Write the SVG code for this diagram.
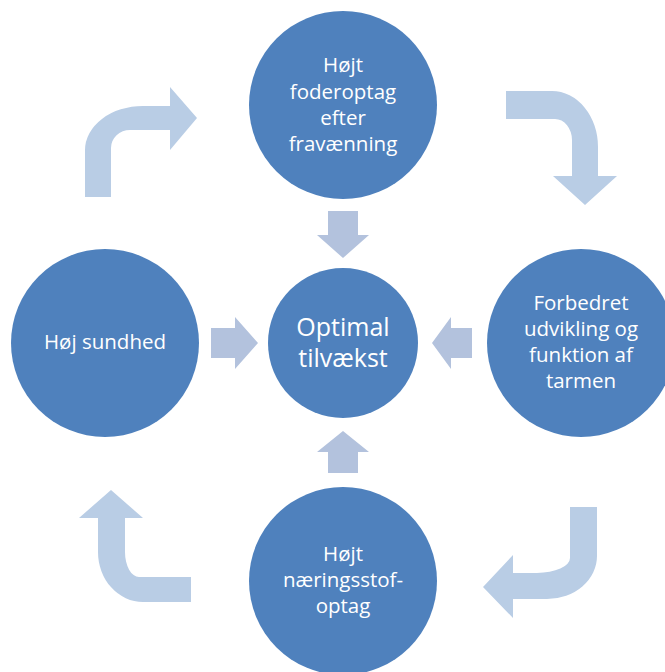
<svg xmlns="http://www.w3.org/2000/svg" width="665" height="672" viewBox="0 0 665 672">
<style>
.node{fill:#4F81BD}
.t{font-family:"Open Sans","Noto Sans","DejaVu Sans",sans-serif;font-size:20.5px;fill:#FFFFFF;text-anchor:middle}
.big{font-size:25px}
.curved{fill:#B9CDE5}
.straight{fill:#B3C2DD}
</style>
<rect width="665" height="672" fill="#FFFFFF"/>
<g id="connectors">
<path class="curved" d="M85,197 L85,150 A58,44 0 0 1 143,106 L170,106 L170,87 L197,118 L170,150 L170,130 L130,130 A19,18 0 0 0 111,148 L111,197 Z"/>
<path class="curved" d="M506,91 L552,91 A46,56 0 0 1 598,147 L598,176 L617,176 L585,205 L553,176 L572,176 L572,140 A17,21 0 0 0 555,119 L506,119 Z"/>
<path class="curved" d="M570,507 L597,507 L597,556 A50,43 0 0 1 547,599 L513,599 L513,618 L483,587 L513,555 L513,573 L537,573 A33,15 0 0 0 570,558 Z"/>
<path class="curved" d="M191,602 L143,602 A45,50 0 0 1 98,552 L98,518 L79,518 L111,490 L143,518 L125,518 L125,552 A14,25 0 0 0 139,577 L191,577 Z"/>
<path class="straight" d="M328,211 L358,211 L358,235 L369,235 L343,258 L317,235 L328,235 Z"/>
<path class="straight" d="M211,328 L235,328 L235,317 L258,343 L235,369 L235,358 L211,358 Z"/>
<path class="straight" d="M472,328 L451,328 L451,317 L432,343 L451,369 L451,358 L472,358 Z"/>
<path class="straight" d="M328,473 L358,473 L358,452 L369,452 L343,431 L317,452 L328,452 Z"/>
</g>
<g id="node-top">
<circle class="node" cx="343" cy="105" r="94"/>
<text class="t" x="343" y="72">Højt</text>
<text class="t" x="343" y="99">foderoptag</text>
<text class="t" x="343" y="125">efter</text>
<text class="t" x="343" y="151">fravænning</text>
</g>
<g id="node-left">
<circle class="node" cx="105" cy="343" r="94"/>
<text class="t" x="105" y="349">Høj sundhed</text>
</g>
<g id="node-right">
<circle class="node" cx="581" cy="343" r="94"/>
<text class="t" x="581" y="310">Forbedret</text>
<text class="t" x="581" y="336">udvikling og</text>
<text class="t" x="581" y="362">funktion af</text>
<text class="t" x="581" y="388">tarmen</text>
</g>
<g id="node-bottom">
<circle class="node" cx="343" cy="581" r="94"/>
<text class="t" x="343" y="561">Højt</text>
<text class="t" x="343" y="587">næringsstof-</text>
<text class="t" x="343" y="613">optag</text>
</g>
<g id="node-center">
<circle class="node" cx="343" cy="343" r="75"/>
<text class="t big" x="343" y="336">Optimal</text>
<text class="t big" x="343" y="367">tilvækst</text>
</g>
</svg>
